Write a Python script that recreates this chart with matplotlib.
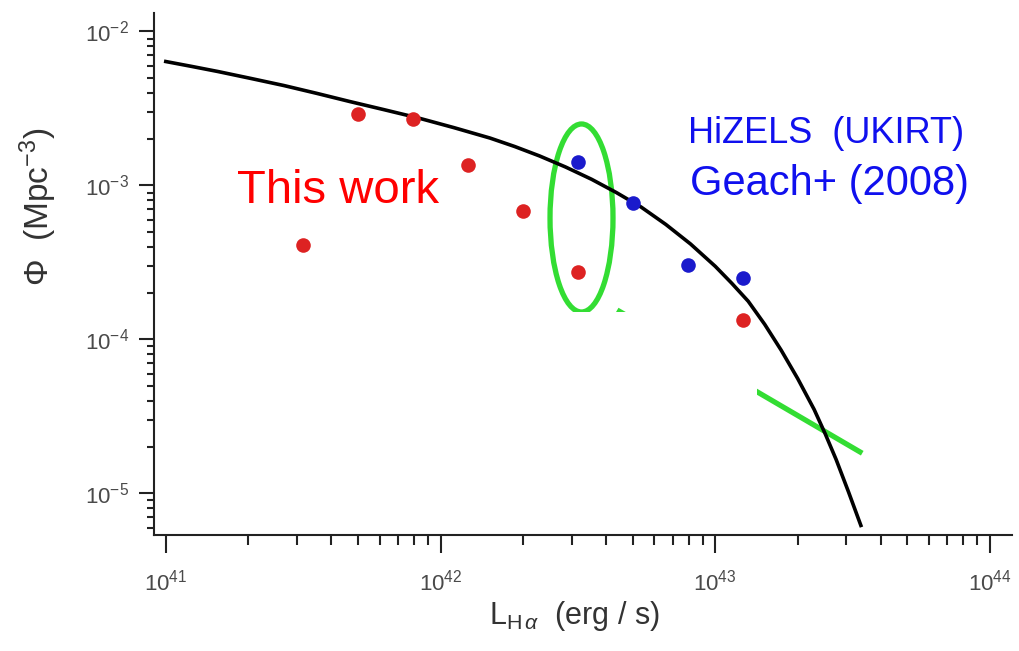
#! /usr/bin/env python3
# -*- coding: utf-8 -*-
"""
H-alpha luminosity function: this work vs. HiZELS (Geach+ 2008)
log-log plot with Schechter fit, saved to out.png
"""

import matplotlib.pyplot as plt
from matplotlib.patches import Ellipse, Rectangle
import numpy as np

# -----------------------------------------------------------------------------

# red points (this work): log L_Ha [erg/s], Phi [Mpc^-3]
work_logL = [41.5, 41.7, 41.9, 42.1, 42.3, 42.5, 43.1]
work_phi  = [4.1e-4, 2.9e-3, 2.7e-3, 1.36e-3, 6.8e-4, 2.75e-4, 1.34e-4]

# blue points (HiZELS / UKIRT, Geach+ 2008)
hizels_logL = [42.5, 42.7, 42.9, 43.1]
hizels_phi  = [1.43e-3, 7.7e-4, 3.05e-4, 2.5e-4]

# Schechter fit, sampled along the curve (log L, log Phi)
fit_logL   = [41.000, 41.095, 41.190, 41.310, 41.430, 41.550, 41.670,
              41.795, 41.920, 42.050, 42.180, 42.270, 42.360, 42.455,
              42.550, 42.640, 42.730, 42.820, 42.910, 43.000, 43.060,
              43.120, 43.180, 43.240, 43.300, 43.360, 43.400, 43.440,
              43.485, 43.530]
fit_logphi = [-2.195, -2.227, -2.260, -2.305, -2.351, -2.402, -2.455,
              -2.508, -2.562, -2.625, -2.692, -2.747, -2.808, -2.880,
              -2.960, -3.046, -3.140, -3.253, -3.380, -3.525, -3.635,
              -3.752, -3.902, -4.070, -4.254, -4.455, -4.612, -4.780,
              -4.990, -5.208]

# green slope line (log L, log Phi)
green_logL   = [42.643, 43.535]
green_logphi = [-3.809, -4.739]

# -----------------------------------------------------------------------------

plt.rcParams['font.family'] = ['Liberation Sans', 'DejaVu Sans']
plt.rcParams['mathtext.fontset'] = 'custom'
plt.rcParams['mathtext.rm'] = 'Liberation Sans'
plt.rcParams['mathtext.it'] = 'Liberation Sans:italic'

TICK_GRAY = '#4a4a4a'
GREEN     = '#33dd33'

fig = plt.figure(figsize=(10.19, 6.51), dpi=100)
ax = fig.add_axes([0.1511, 0.1782, 0.8420, 0.8018])

# fit curve and data points
ax.plot(10**np.array(fit_logL), 10**np.array(fit_logphi),
        color='black', lw=2.6, solid_joinstyle='round', zorder=3)
ax.plot(10**np.array(work_logL), work_phi, 'o', color='#dd2222',
        ms=10.5, mec='none', zorder=4)
ax.plot(10**np.array(hizels_logL), hizels_phi, 'o', color='#1a1acc',
        ms=10.5, mec='none', zorder=4)

# green highlights: ellipse around log L = 42.5 and slope line
ax.add_patch(Ellipse((0.4983, 0.6073), 0.0734, 0.3602, transform=ax.transAxes,
                     fill=False, ec=GREEN, lw=3.8, zorder=2))
ax.plot(10**np.array(green_logL), 10**np.array(green_logphi),
        color=GREEN, lw=3.8, solid_capstyle='butt', zorder=2)
# white cover box sitting over the lower part of the highlights
ax.add_patch(Rectangle((0.438, 0.05), 0.265, 0.377, transform=ax.transAxes,
                       fc='white', ec='none', zorder=2.5))

# axes: log-log, only left and bottom spines
ax.set_xscale('log')
ax.set_yscale('log')
ax.set_xlim(10**40.957, 10**44.08)
ax.set_ylim(10**-5.27, 10**-1.88)
ax.set_xticks([1e41, 1e42, 1e43, 1e44])
ax.set_yticks([1e-5, 1e-4, 1e-3, 1e-2])

for side in ('top', 'right'):
    ax.spines[side].set_visible(False)
for side in ('left', 'bottom'):
    ax.spines[side].set_linewidth(1.5)
    ax.spines[side].set_color('#222222')

ax.tick_params(axis='x', which='major', direction='out', length=13, width=1.5,
               pad=12, labelsize=16, labelcolor=TICK_GRAY, color='#222222')
ax.tick_params(axis='x', which='minor', direction='out', length=7, width=1.5,
               color='#222222')
ax.tick_params(axis='y', which='major', direction='out', length=11, width=1.5,
               pad=7, labelsize=16, labelcolor=TICK_GRAY, color='#222222')
ax.tick_params(axis='y', which='minor', direction='out', length=5, width=1.5,
               color='#222222')

ax.set_xlabel(r'L$_{\mathrm{H}\,\alpha}$  (erg / s)', fontsize=22,
              color='#333333')
ax.xaxis.set_label_coords(0.4895, -0.122)
ax.set_ylabel(r'$\Phi$  (Mpc$^{-3}$)', fontsize=24, color='#333333')
ax.yaxis.set_label_coords(-0.111, 0.628)

# slide annotations
fig.text(237 / 1019, 1 - 203 / 651, 'This work', color='#ff0000',
         fontsize=34, va='baseline')
fig.text(688 / 1019, 1 - 143 / 651, 'HiZELS  (UKIRT)', color='#1010ee',
         fontsize=26, va='baseline')
fig.text(690 / 1019, 1 - 195 / 651, 'Geach+ (2008)', color='#1010ee',
         fontsize=30, va='baseline')

fig.savefig('out.png', dpi=100)
